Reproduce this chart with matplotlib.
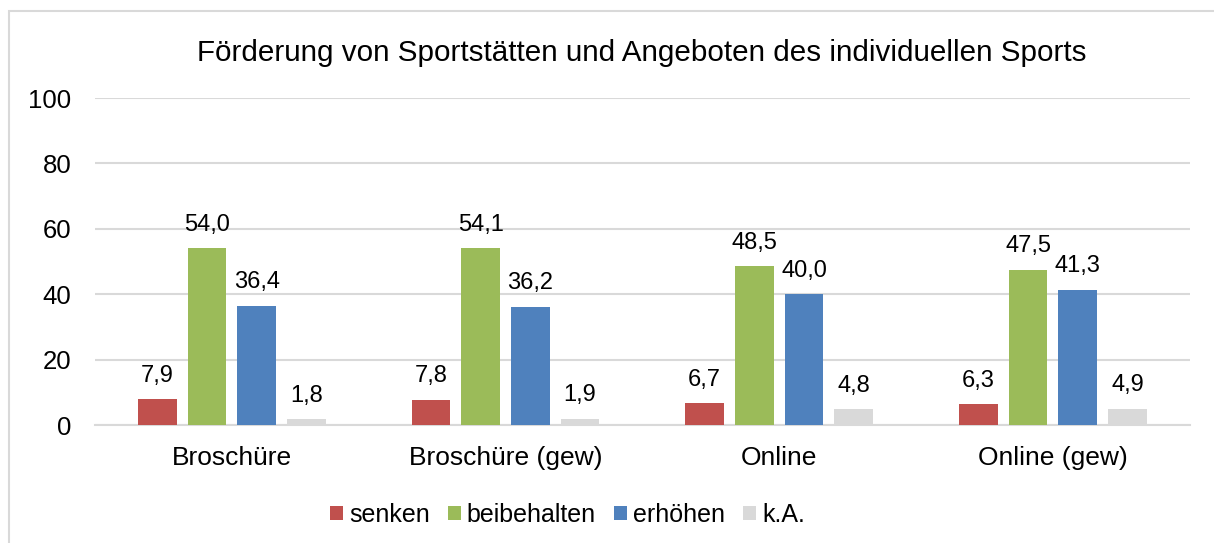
import matplotlib
matplotlib.use("Agg")
import matplotlib.pyplot as plt
from matplotlib.patches import Rectangle
import numpy as np

plt.rcParams['font.family'] = ['Liberation Sans', 'DejaVu Sans']

# data
categories = ["Broschüre", "Broschüre (gew)", "Online", "Online (gew)"]
series_names = ["senken", "beibehalten", "erhöhen", "k.A."]
senken = [7.9, 7.8, 6.7, 6.3]
beibehalten = [54.0, 54.1, 48.5, 47.5]
erhoehen = [36.4, 36.2, 40.0, 41.3]
ka = [1.8, 1.9, 4.8, 4.9]
colors = ["#C0504D", "#9BBB59", "#4F81BD", "#D9D9D9"]
title = "Förderung von Sportstätten und Angeboten des individuellen Sports"

fig = plt.figure(figsize=(12.14, 5.43), dpi=100)
ax = fig.add_axes([0.0783, 0.2173, 0.9017, 0.6022])

# outer chart border (runs off right/bottom like the screenshot)
fig.patches.append(Rectangle((9 / 1214, -0.05), 1.2, 1 - 11 / 543 + 0.05,
                             transform=fig.transFigure, fill=False,
                             edgecolor="#D9D9D9", linewidth=1.5))

x = np.arange(len(categories))
width = 0.1415
step = 0.1815
all_series = [senken, beibehalten, erhoehen, ka]
for i, (vals, name, col) in enumerate(zip(all_series, series_names, colors)):
    pos = x + (i - 1.5) * step
    bars = ax.bar(pos, vals, width, color=col, label=name, zorder=3)
    for b, v in zip(bars, vals):
        ax.annotate("{:.1f}".format(v).replace(".", ","),
                    (b.get_x() + b.get_width() / 2, v),
                    xytext=(0, 9), textcoords="offset points",
                    ha="center", va="bottom", fontsize=17, color="#000000")

ax.set_xlim(-0.5, 3.5)
ax.set_ylim(0, 100)
ax.set_yticks(range(0, 101, 20))
ax.set_xticks(x)
ax.set_xticklabels(categories, fontsize=19)
ax.tick_params(axis="y", labelsize=18.5, length=0, pad=17)
ax.tick_params(axis="x", length=0, pad=15)
ax.grid(axis="y", color="#D9D9D9", linewidth=1.5, zorder=0)
for s in ["left", "right", "top"]:
    ax.spines[s].set_visible(False)
ax.spines["bottom"].set_color("#D9D9D9")
ax.spines["bottom"].set_linewidth(1.5)

fig.text(0.5285, 1 - 53 / 543, title, ha="center", va="center", fontsize=21.3)

fig.legend(loc="center", bbox_to_anchor=(0.4675, 1 - 515 / 543), ncol=4,
           frameon=False, fontsize=18, handlelength=0.52, handleheight=0.52,
           handletextpad=0.25, columnspacing=0.72)

fig.savefig("out.png", dpi=100)
